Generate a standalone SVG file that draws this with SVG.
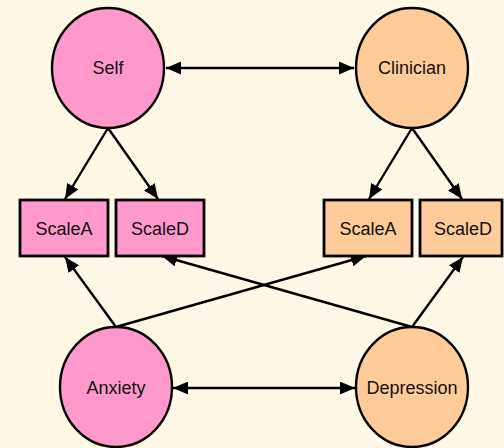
<svg xmlns="http://www.w3.org/2000/svg" width="504" height="448" viewBox="0 0 504 448">
  <style>
    .bg { fill: #fff8e6; }
    .self { fill: #ff99cc; stroke: #000; stroke-width: 2.4; }
    .clin { fill: #ffcc99; stroke: #000; stroke-width: 2.4; }
    .box { stroke-width: 2.8; }
    .lbl { font-family: "Liberation Sans", Arial, sans-serif; font-size: 18px; fill: #111; text-anchor: middle; dominant-baseline: central; }
    .edge { stroke: #000; stroke-width: 2.4; fill: none; }
  </style>
  <defs>
    <marker id="head" viewBox="0 0 15 13" refX="15" refY="6.5" markerWidth="15" markerHeight="13" markerUnits="userSpaceOnUse" orient="auto-start-reverse">
      <path d="M0,0 L15,6.5 L0,13 Z" fill="#000"/>
    </marker>
  </defs>
  <rect class="bg" x="0" y="0" width="504" height="448"/>

  <g id="connectors">
    <line class="edge" x1="166" y1="68" x2="354" y2="68" marker-start="url(#head)" marker-end="url(#head)"/>
    <line class="edge" x1="173" y1="388" x2="355" y2="388" marker-start="url(#head)" marker-end="url(#head)"/>
    <line class="edge" x1="108" y1="128" x2="65" y2="199" marker-end="url(#head)"/>
    <line class="edge" x1="108" y1="128" x2="158" y2="199" marker-end="url(#head)"/>
    <line class="edge" x1="412" y1="128" x2="369" y2="199" marker-end="url(#head)"/>
    <line class="edge" x1="412" y1="128" x2="462" y2="199" marker-end="url(#head)"/>
    <line class="edge" x1="116" y1="327" x2="65" y2="257" marker-end="url(#head)"/>
    <line class="edge" x1="116" y1="327" x2="366" y2="256" marker-end="url(#head)"/>
    <line class="edge" x1="412" y1="327" x2="162" y2="256" marker-end="url(#head)"/>
    <line class="edge" x1="412" y1="327" x2="463" y2="257" marker-end="url(#head)"/>
  </g>

  <g id="self">
    <ellipse class="self" cx="108" cy="68" rx="56" ry="60"/>
    <text class="lbl" x="108" y="68">Self</text>
  </g>
  <g id="clinician">
    <ellipse class="clin" cx="412" cy="68" rx="56" ry="60"/>
    <text class="lbl" x="412" y="68">Clinician</text>
  </g>
  <g id="self-scaleA">
    <rect class="self box" x="20" y="200" width="88" height="56"/>
    <text class="lbl" x="64" y="229">ScaleA</text>
  </g>
  <g id="self-scaleD">
    <rect class="self box" x="116" y="200" width="88" height="56"/>
    <text class="lbl" x="160" y="229">ScaleD</text>
  </g>
  <g id="clin-scaleA">
    <rect class="clin box" x="324" y="200" width="88" height="56"/>
    <text class="lbl" x="368" y="229">ScaleA</text>
  </g>
  <g id="clin-scaleD">
    <rect class="clin box" x="420" y="200" width="82" height="56"/>
    <text class="lbl" x="463" y="229">ScaleD</text>
  </g>
  <g id="anxiety">
    <ellipse class="self" cx="116" cy="387" rx="56" ry="60"/>
    <text class="lbl" x="116" y="388">Anxiety</text>
  </g>
  <g id="depression">
    <ellipse class="clin" cx="412" cy="387" rx="56" ry="60"/>
    <text class="lbl" x="412" y="388">Depression</text>
  </g>
</svg>
